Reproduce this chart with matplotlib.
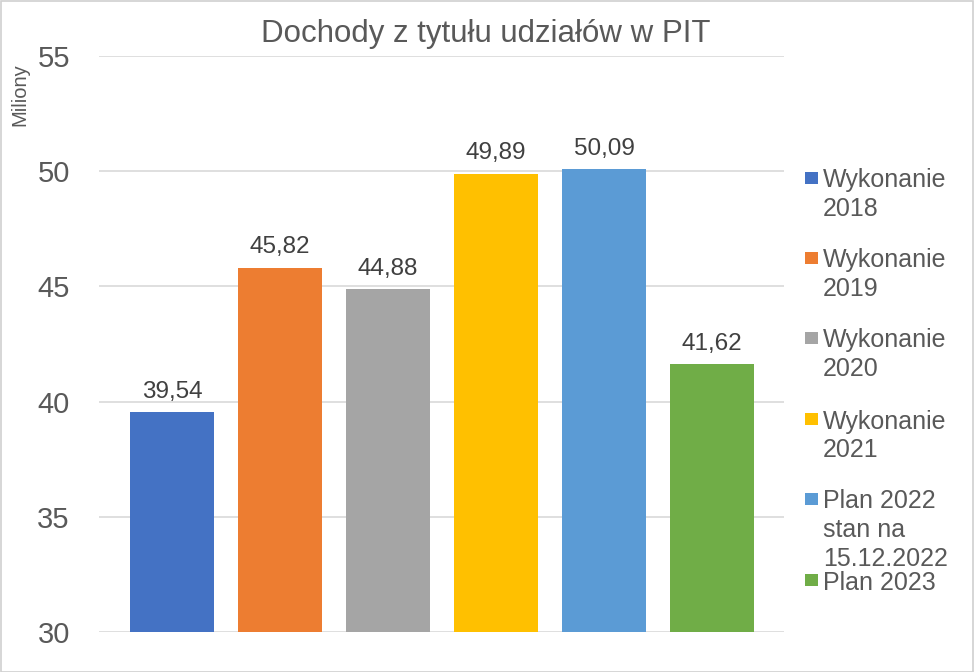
import matplotlib
matplotlib.use("Agg")
import matplotlib.pyplot as plt
from matplotlib.patches import Rectangle

plt.rcParams['font.family'] = ['Liberation Sans', 'DejaVu Sans']

title = "Dochody z tytułu udziałów w PIT"
categories = ["Wykonanie\n2018", "Wykonanie\n2019", "Wykonanie\n2020",
              "Wykonanie\n2021", "Plan 2022\nstan na\n15.12.2022", "Plan 2023"]
values = [39.54, 45.82, 44.88, 49.89, 50.09, 41.62]
value_labels = ["39,54", "45,82", "44,88", "49,89", "50,09", "41,62"]
colors = ["#4472C4", "#ED7D31", "#A5A5A5", "#FFC000", "#5B9BD5", "#70AD47"]
yticks = [30, 35, 40, 45, 50, 55]
ylabel = "Miliony"

W, H = 974, 672
fig = plt.figure(figsize=(W / 100, H / 100), dpi=100)

# plot area in pixels
left, right, top, bottom = 99, 784, 56, 632
ax = fig.add_axes([left / W, 1 - bottom / H, (right - left) / W, (bottom - top) / H])

x = list(range(len(values)))
ax.bar(x, values, width=0.778, color=colors, zorder=3)
ax.set_xlim(-0.676, 5.667)
ax.set_ylim(30, 55)
ax.set_yticks(yticks)
ax.set_yticklabels([str(t) for t in yticks], fontsize=21, color="#595959")
ax.set_xticks([])
ax.tick_params(axis='y', length=0, pad=21)
for s in ax.spines.values():
    s.set_visible(False)
ax.grid(axis='y', color="#d9d9d9", linewidth=1.2, zorder=0)

for xi, v, lab in zip(x, values, value_labels):
    ax.annotate(lab, (xi, v), xytext=(0, 10.5), textcoords="offset points",
                ha="center", va="baseline", fontsize=17.5, color="#404040")

fig.text(486 / W, 1 - 34 / H, title, ha="center", va="center", fontsize=22.5, color="#595959")
fig.text(20 / W, 1 - 95 / H, ylabel, rotation=90, ha="center", va="center",
         fontsize=14.5, color="#595959")

# legend (manual, Excel-like layout)
entry_y = [178, 258, 338, 419, 499, 580]
line_h = 28.5
for lab, c, ey in zip(categories, colors, entry_y):
    fig.patches.append(Rectangle((805 / W, 1 - (ey + 6) / H), 13 / W, 12 / H,
                                 transform=fig.transFigure, facecolor=c, edgecolor="none"))
    for j, line in enumerate(lab.split("\n")):
        fig.text(823 / W, 1 - (ey + j * line_h) / H, line, ha="left", va="center_baseline",
                 fontsize=18, color="#595959")

# figure border
fig.patches.append(Rectangle((0.5 / W, 0.5 / H), 1 - 1.5 / W, 1 - 1.5 / H,
                             transform=fig.transFigure, facecolor="none",
                             edgecolor="#d0d0d0", linewidth=1.2))

fig.savefig("out.png", dpi=100)
